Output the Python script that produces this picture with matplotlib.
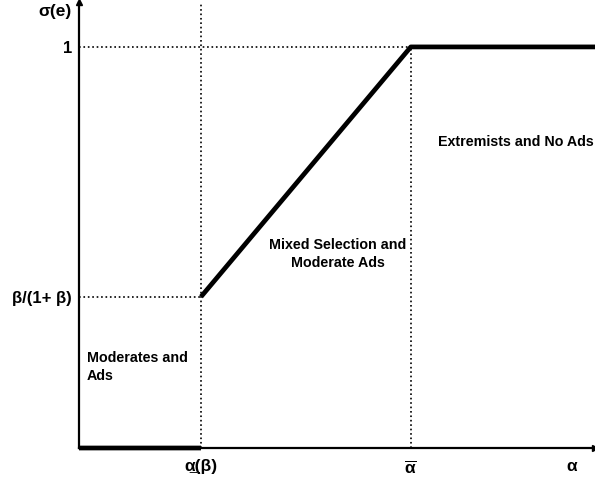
import matplotlib
matplotlib.use("Agg")
import matplotlib.pyplot as plt
import numpy as np

plt.rcParams['font.family'] = ['Liberation Sans', 'DejaVu Sans']
plt.rcParams['font.weight'] = 'bold'
plt.rcParams['mathtext.fontset'] = 'custom'
plt.rcParams['mathtext.rm'] = 'Liberation Sans:bold'
plt.rcParams['mathtext.it'] = 'Liberation Sans:bold'
plt.rcParams['mathtext.bf'] = 'Liberation Sans:bold'

# seuils (unités arbitraires)
alpha_low = 1.0      # alpha souligné (beta)
alpha_bar = 2.72     # alpha barre
x_end = 4.23
y_low = 0.377        # beta/(1+beta)
y_high = 1.0
y_top = 1.112

# courbe sigma(e) par morceaux (discontinue en alpha_low)
curve_x = [0, alpha_low, np.nan, alpha_low, alpha_bar, x_end]
curve_y = [0, 0, np.nan, y_low, y_high, y_high]

W, H = 595, 480
fig = plt.figure(figsize=(W / 100, H / 100), dpi=100)
ax = fig.add_axes([79 / W, 32 / H, (W - 79) / W, (448 - 2) / H])
ax.set_xlim(0, x_end)
ax.set_ylim(0, y_top)

for s in ['top', 'right']:
    ax.spines[s].set_visible(False)
for s in ['left', 'bottom']:
    ax.spines[s].set_linewidth(1.6)
    ax.spines[s].set_zorder(1)

# flèches au bout des axes
ax.plot(1, 0, '>k', ms=4, transform=ax.transAxes, clip_on=False)
ax.plot(0, 1, '^k', ms=4, transform=ax.transAxes, clip_on=False)

# lignes pointillées de repère
ax.plot([0, alpha_bar], [y_high, y_high], ':k', lw=1.2)
ax.plot([0, alpha_low], [y_low, y_low], ':k', lw=1.2)
ax.plot([alpha_low, alpha_low], [0, y_top], ':k', lw=1.2)
ax.plot([alpha_bar, alpha_bar], [0, y_high], ':k', lw=1.2)

ax.plot(curve_x, curve_y, '-k', lw=3.4, solid_capstyle='butt', clip_on=False, zorder=3)

ax.set_xticks([alpha_low, alpha_bar, x_end * 0.955])
ax.set_xticklabels(['α\u0332(β)', r'$\overline{\alpha}$', 'α'], fontsize=12.5)
ax.set_yticks([y_low, y_high])
ax.set_yticklabels(['β/(1+ β)', '1'], fontsize=12)
ax.tick_params(length=0)
ax.tick_params(axis='y', pad=5)
ax.tick_params(axis='x', pad=8)

ax.text(-0.015, 0.978, 'σ(e)', transform=ax.transAxes, ha='right', va='center',
        fontsize=12.5, fontweight='bold')

ax.text(0.066, 0.202, 'Moderates and\nAds', ha='left', va='center', fontsize=10.3,
        fontweight='bold', linespacing=1.3)
ax.text(2.12, 0.484, 'Mixed Selection and\nModerate Ads', ha='center', va='center',
        fontsize=10.3, fontweight='bold', linespacing=1.3)
ax.text(2.94, 0.763, 'Extremists and No Ads', ha='left', va='center', fontsize=10.3,
        fontweight='bold')

fig.savefig('out.png', dpi=100)
